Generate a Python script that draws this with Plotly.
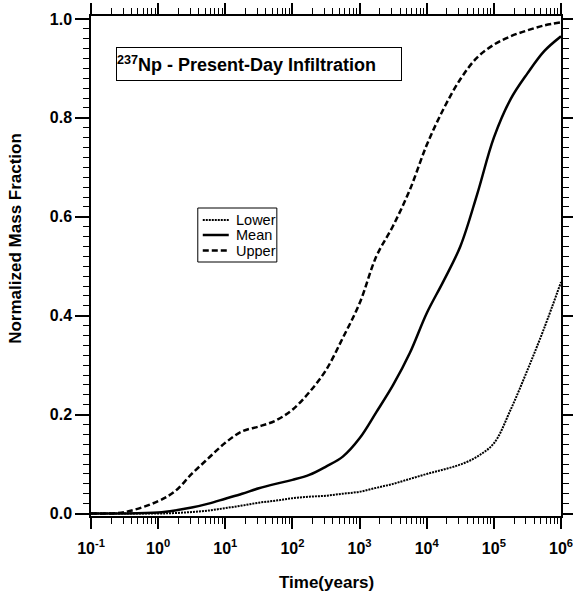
import plotly.graph_objects as go

# log10 of time (years)
log_time = [-1, -0.5, 0, 0.25, 0.5, 0.75, 1, 1.25, 1.5, 1.75, 2, 2.25, 2.5, 2.75,
            3, 3.25, 3.5, 3.75, 4, 4.25, 4.5, 4.75, 5, 5.25, 5.5, 5.75, 6]
time_years = [10 ** v for v in log_time]

upper = [0.0, 0.003, 0.025, 0.045, 0.08, 0.112, 0.143, 0.166, 0.176, 0.188, 0.21,
         0.245, 0.29, 0.355, 0.425, 0.52, 0.582, 0.655, 0.745, 0.818, 0.878, 0.922,
         0.948, 0.965, 0.977, 0.987, 0.993]
mean = [0.0, 0.0, 0.002, 0.006, 0.012, 0.02, 0.03, 0.04, 0.051, 0.06, 0.068,
        0.078, 0.095, 0.115, 0.152, 0.205, 0.26, 0.325, 0.405, 0.47, 0.54, 0.645,
        0.76, 0.838, 0.89, 0.935, 0.965]
lower = [0.0, 0.0, 0.0, 0.001, 0.003, 0.006, 0.011, 0.016, 0.022, 0.026, 0.031,
         0.034, 0.036, 0.04, 0.044, 0.052, 0.06, 0.07, 0.08, 0.089, 0.099, 0.115,
         0.142, 0.21, 0.29, 0.375, 0.468]

series_names = ["Lower", "Mean", "Upper"]

x_tickvals = [0.1, 1, 10, 100, 1000, 1e4, 1e5, 1e6]
x_ticktext = ["10<sup>-1</sup>", "10<sup>0</sup>", "10<sup>1</sup>", "10<sup>2</sup>",
              "10<sup>3</sup>", "10<sup>4</sup>", "10<sup>5</sup>", "10<sup>6</sup>"]
y_tickvals = [0.0, 0.2, 0.4, 0.6, 0.8, 1.0]
y_ticktext = ["0.0", "0.2", "0.4", "0.6", "0.8", "1.0"]

FONT = "Liberation Sans, Arial, sans-serif"
styles = [dict(width=2, dash="2px,1px"), dict(width=2.5, dash="solid"), dict(width=2.5, dash="6px,3px")]

fig = go.Figure()
for name, vals, st in zip(series_names, [lower, mean, upper], styles):
    fig.add_trace(go.Scatter(x=time_years, y=vals, name=name, mode="lines", showlegend=False,
                             line=dict(color="black", width=st["width"], dash=st["dash"], shape="spline")))

# hand-drawn legend box (paper coordinates)
shapes = [dict(type="rect", xref="paper", yref="paper", x0=0.2272, x1=0.3954, y0=0.508, y1=0.616,
               line=dict(color="black", width=1), fillcolor="white", layer="above")]
annotations = []
row_y = [0.592, 0.562, 0.531]
for name, st, yy in zip(series_names, styles, row_y):
    shapes.append(dict(type="line", xref="paper", yref="paper", x0=0.2378, x1=0.2931, y0=yy, y1=yy,
                       line=dict(color="black", width=st["width"], dash=st["dash"]), layer="above"))
    annotations.append(dict(text=name, xref="paper", yref="paper", x=0.3035, y=yy,
                            xanchor="left", yanchor="middle", showarrow=False,
                            font=dict(family=FONT, size=14.5, color="black")))

annotations.append(dict(
    text="<b><sup>237</sup>Np - Present-Day Infiltration</b>",
    xref="paper", yref="paper", x=0.0526, y=0.938, xanchor="left", yanchor="top",
    showarrow=False, bordercolor="black", borderwidth=1, borderpad=0,
    width=284, height=32, align="left", valign="middle",
    font=dict(family=FONT, size=18, color="black"),
))
annotations.append(dict(
    text="<b>Normalized Mass Fraction</b>", textangle=-90,
    xref="paper", yref="paper", x=-0.160, y=0.556, xanchor="center", yanchor="middle",
    showarrow=False, font=dict(family=FONT, size=17, color="black"),
))
annotations.append(dict(
    text="<b>Time(years)</b>",
    xref="paper", yref="paper", x=0.5, y=-0.132, xanchor="center", yanchor="middle",
    showarrow=False, font=dict(family=FONT, size=17, color="black"),
))

fig.update_layout(
    width=573, height=595,
    margin=dict(l=91, r=12, t=16, b=79, autoexpand=False),
    paper_bgcolor="white", plot_bgcolor="white",
    font=dict(family=FONT, color="black"),
    showlegend=False,
    shapes=shapes,
    annotations=annotations,
)

fig.update_xaxes(
    type="log", range=[-1, 6], automargin=False,
    tickmode="array", tickvals=x_tickvals, ticktext=x_ticktext,
    ticks="outside", ticklen=11, tickwidth=1.5, tickcolor="black",
    minor=dict(ticks="outside", ticklen=6, tickwidth=1, tickcolor="black", dtick="D1", showgrid=False),
    showline=True, linecolor="black", linewidth=1.5, mirror="ticks",
    showgrid=False, zeroline=False, ticklabelstandoff=6, ticklabeloverflow="allow",
    tickfont=dict(family=FONT, size=16, color="black", weight="bold"),
)
fig.update_yaxes(
    range=[-0.005, 1.006], automargin=False,
    tickmode="array", tickvals=y_tickvals, ticktext=y_ticktext,
    ticks="outside", ticklen=14, tickwidth=1.5, tickcolor="black",
    minor=dict(ticks="outside", ticklen=6, tickwidth=1, tickcolor="black", dtick=0.02, tick0=0, showgrid=False),
    showline=True, linecolor="black", linewidth=1.5, mirror="ticks",
    showgrid=False, zeroline=False, ticklabeloverflow="allow",
    tickfont=dict(family=FONT, size=16, color="black", weight="bold"),
)

fig.write_html("out.html")
